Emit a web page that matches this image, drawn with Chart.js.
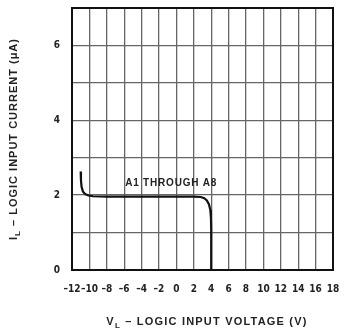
<!DOCTYPE html>
<html>
<head>
<meta charset="utf-8">
<script src="https://cdn.jsdelivr.net/npm/chart.js@4"></script>
<style>
  html, body { margin: 0; padding: 0; background: #fff; }
  #wrap { width: 345px; height: 332px; }
</style>
</head>
<body>
<div id="wrap"><canvas id="curveChart" width="345" height="332"></canvas></div>
<script>
// logic input voltage (V) vs logic input current (uA)
const voltage = [-11, -10.97, -10.9, -10.75, -10.5, -10.1, -9.6, -8, -4, 0, 2, 2.8, 3.2, 3.5, 3.75, 3.9, 3.97, 4, 4];
const current = [2.63, 2.4, 2.22, 2.1, 2.03, 1.99, 1.97, 1.96, 1.96, 1.96, 1.96, 1.95, 1.92, 1.86, 1.75, 1.6, 1.4, 1.1, 0];

const xTicks = [-12, -10, -8, -6, -4, -2, 0, 2, 4, 6, 8, 10, 12, 14, 16, 18];
const yTicks = [0, 2, 4, 6];
const curveLabel = "A1 THROUGH A8";

const NARROW = "'Liberation Sans Narrow', 'DejaVu Sans Condensed', sans-serif";
const WIDE = "'Liberation Sans', Arial, sans-serif";

// draw a label with a subscript L after its first letter, centred on cx
function subTitle(ctx, first, rest, cx, cy) {
  ctx.font = "bold 11px " + WIDE;
  const w1 = ctx.measureText(first).width;
  const wR = ctx.measureText(rest).width;
  ctx.font = "bold 8px " + WIDE;
  const wL = ctx.measureText("L").width;
  let x0 = cx - (w1 + wL + wR) / 2;
  ctx.textAlign = "left";
  ctx.font = "bold 11px " + WIDE;
  ctx.fillText(first, x0, cy);
  ctx.font = "bold 8px " + WIDE;
  ctx.fillText("L", x0 + w1, cy + 4);
  ctx.font = "bold 11px " + WIDE;
  ctx.fillText(rest, x0 + w1 + wL, cy);
}

const titlesPlugin = {
  id: "titles",
  afterDraw(chart) {
    const { ctx, chartArea, scales } = chart;
    ctx.save();
    // frame round the plot
    ctx.strokeStyle = "#111";
    ctx.lineWidth = 2;
    ctx.strokeRect(chartArea.left, chartArea.top, chartArea.right - chartArea.left, chartArea.bottom - chartArea.top);

    ctx.fillStyle = "#222";
    ctx.textBaseline = "middle";
    ctx.letterSpacing = "0.8px";

    // curve label
    ctx.font = "bold 10px " + WIDE;
    ctx.textAlign = "center";
    ctx.fillText(curveLabel, scales.x.getPixelForValue(-0.6), scales.y.getPixelForValue(2.33));

    ctx.letterSpacing = "1.2px";
    subTitle(ctx, "V", " \u2013 LOGIC INPUT VOLTAGE (V)", 207, 322);

    ctx.letterSpacing = "1px";
    ctx.translate(14, (chartArea.top + chartArea.bottom) / 2);
    ctx.rotate(-Math.PI / 2);
    subTitle(ctx, "I", " \u2013 LOGIC INPUT CURRENT (\u03BCA)", 0, 0);
    ctx.restore();
  }
};

new Chart(document.getElementById("curveChart"), {
  type: "scatter",
  data: {
    datasets: [{
      data: voltage.map((v, i) => ({ x: v, y: current[i] })),
      showLine: true,
      borderColor: "#111",
      borderWidth: 2.2,
      pointRadius: 0,
      tension: 0
    }]
  },
  options: {
    responsive: false,
    animation: false,
    events: [],
    layout: { padding: { top: 8, right: 12, left: 0, bottom: 0 } },
    plugins: { legend: { display: false }, tooltip: { enabled: false } },
    scales: {
      x: {
        type: "linear",
        min: -12, max: 18,
        afterFit(s) { s.height = 62; s.paddingRight = 0; s.paddingLeft = 0; },
        afterBuildTicks(s) { s.ticks = xTicks.map(v => ({ value: v })); },
        ticks: {
          autoSkip: false, maxRotation: 0, padding: 13,
          color: "#222",
          font: { family: NARROW, size: 10, weight: "bold" },
          callback: v => String(v).replace("-", "\u2013")
        },
        grid: { color: "#666", lineWidth: 1.3, drawTicks: false },
        border: { color: "#111", width: 2 }
      },
      y: {
        min: 0, max: 7,
        afterFit(s) { s.width = 72; s.paddingTop = 0; s.paddingBottom = 0; },
        ticks: {
          stepSize: 1, padding: 12,
          color: "#222",
          font: { family: NARROW, size: 10, weight: "bold" },
          callback: v => yTicks.includes(v) ? String(v) : ""
        },
        grid: { color: "#666", lineWidth: 1.3, drawTicks: false },
        border: { color: "#111", width: 2 }
      }
    }
  },
  plugins: [titlesPlugin]
});
</script>
</body>
</html>
